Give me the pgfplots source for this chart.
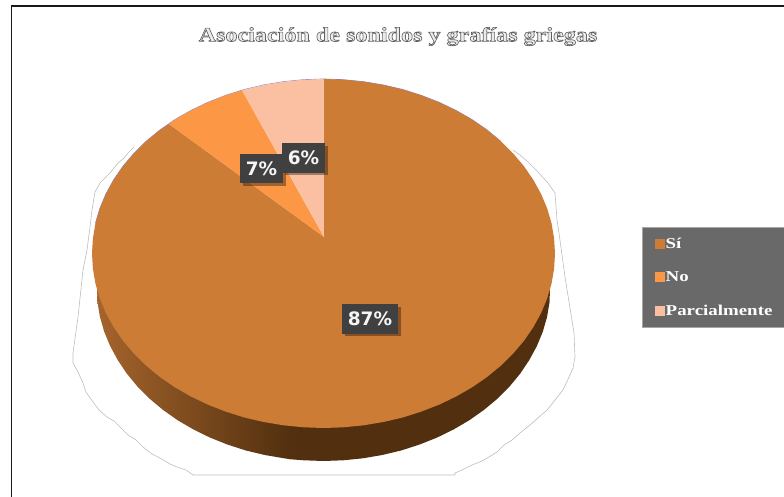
\documentclass[border=0pt]{standalone}
\usepackage{pgfplots}
\pgfplotsset{compat=1.18}
\usepackage{fontspec}
\usetikzlibrary{shadows}
\setmainfont{Liberation Serif}
\newfontfamily\titlefont[FakeStretch=1.2]{Liberation Serif Bold}
\newfontfamily\legfont[FakeStretch=1.26]{Liberation Serif Bold}
\newfontfamily\labfont{DejaVu Sans Bold}
\definecolor{cSi}{HTML}{CD7C36}
\definecolor{cNo}{HTML}{FB9745}
\definecolor{cPa}{HTML}{FBBFA2}
\definecolor{wallL}{HTML}{A5642C}
\definecolor{wallD}{HTML}{52300F}
\definecolor{legbg}{HTML}{696969}
\definecolor{labbg}{HTML}{404040}
\definecolor{outl}{HTML}{BDBDBD}
\begin{document}
\begin{tikzpicture}
\useasboundingbox (0,0) rectangle (784pt,497pt);
\begin{axis}[
  scale only axis, width=784pt, height=497pt,
  xmin=0, xmax=784, ymin=0, ymax=497, y dir=reverse,
  axis lines=none, clip=false,
  legend image code/.code={\fill[#1] (0pt,-5pt) rectangle (10pt,5pt);},
  legend style={at={(axis cs:642,227)}, anchor=north west, fill=legbg, draw=gray!70,
    text=white, font=\legfont\fontsize{15}{17}\selectfont,
    inner xsep=12.5pt, inner ysep=9.5pt, row sep=20pt,
    nodes={inner sep=1pt}},
  legend cell align=left,
  nodes near coords align={center},
]
% frame
\addplot[forget plot, black!90, line width=1.8pt] coordinates {(11.5,497) (11.5,6) (784,6)};
% outer thin outline
\addplot[forget plot, outl, line width=0.6pt] coordinates {
(134,147)(128,153)(124,158)(118,163)(110,173)(100,183)(95,192)(92,210)(90,227)(87,250)(83,270)(78,317)(73,353)(73,363)(78,372)(83,383)(86,392)(93,402)(99,410)(107,417)(114,421)(128,435)(136,440)(143,447)(152,454)(160,458)(170,464)(177,467)(186,470)(193,475)
(455,475)(455,473)(464,469)(472,465)(482,461)(489,457)(497,452)(504,445)(512,440)(520,433)(530,425)(539,417)(547,410)(555,400)(563,390)(569,377)(573,368)(575,357)(574,333)(565,277)(559,233)(557,220)(555,193)(548,183)(538,172)(528,162)(520,155)(513,150)};
% side wall
\addplot[forget plot, draw=none, left color=wallL, right color=wallD] coordinates {
(97,285)(97.4,301.7)(99.9,316.8)(104.2,331.7)(110.2,346.2)(117.8,360.2)(126.9,373.75)(137.5,386.6)(149.6,398.7)(163,409.9)(177.6,420.2)(193.3,429.4)(210,437.6)(227.6,444.6)(245.9,450.5)(264.8,455)(284.1,458.3)(290,459.2)(290,400)};
\addplot[forget plot, draw=none, fill=wallD] coordinates {
(289.5,400)(289.5,459.2)(303.7,460.3)(323.5,461)(343.3,460.3)(362.9,458.3)(382.2,455)(401.1,450.5)(419.4,444.6)(437,437.6)(453.7,429.4)(469.4,420.2)(484,409.9)(497.4,398.7)(509.5,386.6)(520.1,373.75)(529.2,360.2)(536.8,346.2)(542.8,331.7)(547.1,316.8)(549.6,301.7)(550,285)};
% thin blue edge of the top face
\addplot[forget plot, color=blue!45!gray!70, line width=0.7pt] coordinates {
(95.5,223.2)(99.9,208.3)(106,193.8)(113.7,179.8)(123,166.25)(133.9,153.4)(146.2,141.3)(159.8,130.1)(174.7,119.8)(190.7,110.6)(207.8,102.4)(225.7,95.4)(244.3,89.5)(263.6,85)(283.3,81.7)(303.3,79.7)(323.5,79)(343.7,79.7)(363.7,81.7)(383.4,85)(402.7,89.5)(421.3,95.4)(439.3,102.4)(456.3,110.6)(472.3,119.8)(487.2,130.1)(500.8,141.3)};
% slices: Si 87, No 7, Parcialmente 6
\addplot[draw=none, fill=cSi] coordinates {
(324,237)(323.5,79)(343.7,79.7)(363.7,81.7)(383.4,85)(402.7,89.5)(421.3,95.4)(439.3,102.4)(456.3,110.6)(472.3,119.8)(487.2,130.1)(500.8,141.3)(513.1,153.4)(524,166.25)(533.3,179.8)(541,193.8)(547.1,208.3)(551.5,223.2)(554.1,238.3)(555,253.5)
(554.1,268.7)(551.5,283.8)(547.1,298.7)(541,313.2)(533.3,327.2)(524,340.75)(513.1,353.6)(500.8,365.7)(487.2,376.9)(472.3,387.2)(456.3,396.4)(439.3,404.6)(421.3,411.6)(402.7,417.5)(383.4,422)(363.7,425.3)(343.7,427.3)(323.5,428)
(303.3,427.3)(283.3,425.3)(263.6,422)(244.3,417.5)(225.7,411.6)(207.8,404.6)(190.7,396.4)(174.7,387.2)(159.8,376.9)(146.2,365.7)(133.9,353.6)(123,340.75)(113.7,327.2)(106,313.2)(99.9,298.7)(95.5,283.8)(92.9,268.7)(92,253.5)
(92.9,238.3)(95.5,223.2)(99.9,208.3)(106,193.8)(113.7,179.8)(123,166.25)(133.9,153.4)(146.2,141.3)(159.8,130.1)(169,124)};
\addlegendentry{Sí}
\addplot[draw=none, fill=cNo] coordinates {
(324,237)(169,124)(174.7,119.8)(190.7,110.6)(207.8,102.4)(225.7,95.4)(242,90.2)};
\addlegendentry{No}
\addplot[draw=none, fill=cPa] coordinates {
(324,237)(242,90.2)(244.3,89.5)(263.6,85)(283.3,81.7)(303.3,79.7)(323.5,79)};
\addlegendentry{Parcialmente}
% data labels
\pgfplotsset{lab/.style={forget plot, draw=none, mark=none, point meta=explicit symbolic,
  nodes near coords,
  every node near coord/.append style={anchor=center, fill=labbg, text=black!4,
    font=\labfont\fontsize{18.5}{22}\selectfont, inner sep=0pt, minimum height=29.5pt,
    minimum width=#1, drop shadow={shadow xshift=2.5pt, shadow yshift=-2.5pt, opacity=0.35, fill=black}}}}
\addplot[lab=56pt] coordinates {(370,319)[87\%]};
\addplot[lab=43pt] coordinates {(261.5,168.5)[7\%]};
\addplot[lab=43pt] coordinates {(303.5,158)[6\%]};
% title
\node[text=black!8, font=\titlefont\fontsize{20.1}{22}\selectfont] at (axis cs:398,36.5)
  {\special{pdf:code 2 Tr 0.65 w 0.38 0.38 0.38 RG}Asociación de sonidos y grafías griegas\special{pdf:code 0 Tr 0 G}};
\end{axis}
\end{tikzpicture}
\end{document}
